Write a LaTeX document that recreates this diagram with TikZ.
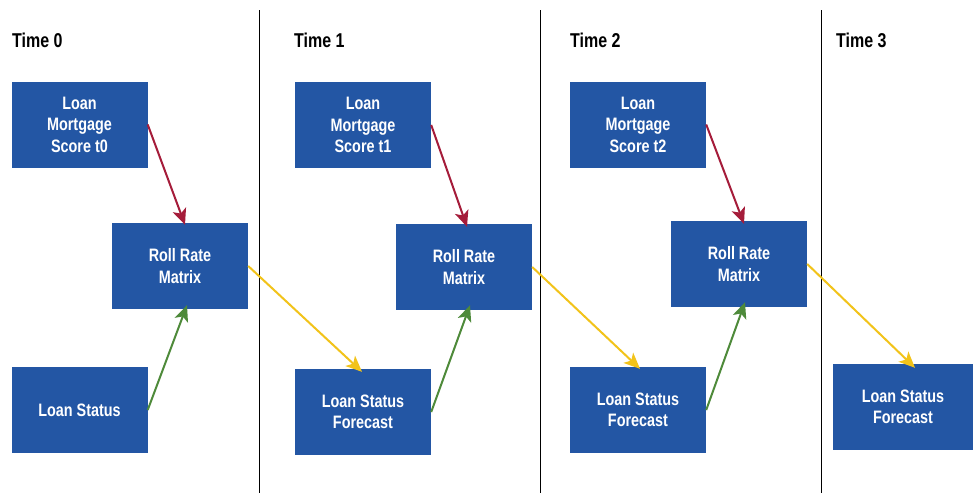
\documentclass[tikz,border=0pt]{standalone}
\usepackage{fontspec}
\setmainfont{Liberation Sans}[FakeStretch=0.8]
\usetikzlibrary{arrows.meta,calc}
\definecolor{boxblue}{HTML}{2356A4}
\definecolor{arrred}{HTML}{A51C3A}
\definecolor{arrgreen}{HTML}{4E8A3A}
\definecolor{arryellow}{HTML}{F2C31A}
\tikzset{
  box/.style={rectangle, fill=boxblue, text=white, align=center, inner sep=0pt,
    minimum width=136pt, minimum height=86pt, font=\bfseries\fontsize{18}{21.5}\selectfont},
  timelabel/.style={anchor=west, inner sep=0pt, font=\bfseries\fontsize{20}{22}\selectfont},
  divider/.style={line width=1pt, black},
  conn/.style={line width=2pt, -{Stealth[length=16pt, width=14pt, inset=4pt]}},
  redarr/.style={conn, arrred},
  greenarr/.style={conn, arrgreen},
  yellowarr/.style={conn, arryellow}
}
\begin{document}
\begin{tikzpicture}[x=1pt, y=-1pt]
\useasboundingbox[fill=white] (0,0) rectangle (973,493);
% dividers
\draw[divider] (259,10) coordinate (d1a) -- (259,493) coordinate (d1b);
\draw[divider] (540,10) coordinate (d2a) -- (540,493) coordinate (d2b);
\draw[divider] (821,10) coordinate (d3a) -- (821,493) coordinate (d3b);
% time labels
\node[timelabel] (t0) at (12,40) {Time 0};
\node[timelabel] (t1) at (294,40) {Time 1};
\node[timelabel] (t2) at (570,40) {Time 2};
\node[timelabel] (t3) at (836,40) {Time 3};
% Time 0
\node[box] (s0) at (79.5,124.5) {Loan\\Mortgage\\Score t0};
\node[box] (r0) at (180,266) {Roll Rate\\Matrix};
\node[box] (l0) at (79.5,410) {Loan Status};
% Time 1
\node[box] (s1) at (363,125) {Loan\\Mortgage\\Score t1};
\node[box] (r1) at (464,267) {Roll Rate\\Matrix};
\node[box] (f1) at (363,412) {Loan Status\\Forecast};
% Time 2
\node[box] (s2) at (638,124.5) {Loan\\Mortgage\\Score t2};
\node[box] (r2) at (739,264) {Roll Rate\\Matrix};
\node[box] (f2) at (638,410) {Loan Status\\Forecast};
% Time 3
\node[box, minimum width=140pt] (f3) at (903,407) {Loan Status\\Forecast};
% arrows time 0
\draw[redarr] (s0.east) -- ([xshift=5pt,yshift=-2pt]r0.north);
\draw[greenarr] (l0.east) -- ([xshift=7pt,yshift=4pt]r0.south);
\draw[yellowarr] (r0.east) -- ([xshift=-1pt,yshift=-3pt]f1.north);
% arrows time 1
\draw[redarr] (s1.east) -- ([xshift=3pt,yshift=-3pt]r1.north);
\draw[greenarr] (f1.east) -- ([xshift=6pt,yshift=5pt]r1.south);
\draw[yellowarr] (r1.east) -- ([xshift=2pt,yshift=-2pt]f2.north);
% arrows time 2
\draw[redarr] (s2.east) -- ([xshift=5pt,yshift=-3pt]r2.north);
\draw[greenarr] (f2.east) -- ([xshift=6pt,yshift=5pt]r2.south);
\draw[yellowarr] (r2.east) -- ([xshift=12pt,yshift=-4pt]f3.north);
\end{tikzpicture}
\end{document}
